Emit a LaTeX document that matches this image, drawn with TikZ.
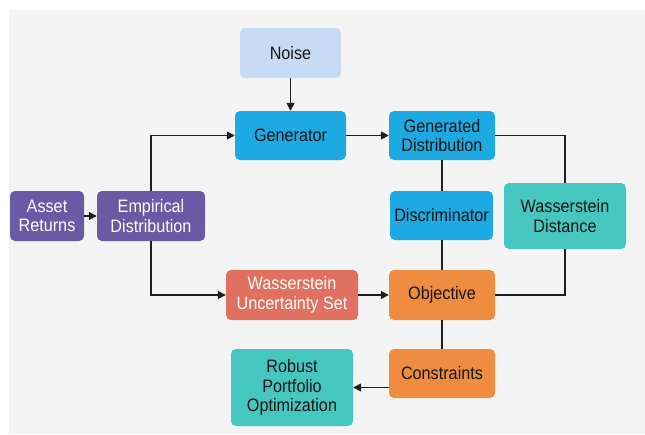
\documentclass[tikz,border=0pt]{standalone}
\usepackage{fontspec}
\setmainfont[FakeStretch=0.9]{Liberation Sans}
\usetikzlibrary{arrows.meta}
\definecolor{bggray}{HTML}{F4F4F4}
\definecolor{noisec}{HTML}{C6DBF3}
\definecolor{bluec}{HTML}{1DA9E1}
\definecolor{purplec}{HTML}{6A5AA6}
\definecolor{tealc}{HTML}{45C7BF}
\definecolor{salmonc}{HTML}{E0705F}
\definecolor{orangec}{HTML}{EF8C3F}
\definecolor{linec}{HTML}{1E1E1E}
\definecolor{darktext}{HTML}{151515}
\newcommand\bnode[7]{\node[box,#6,minimum width={(#4-#2)*1pt},minimum height={(#5-#3)*1pt}] (#1) at ({(#2+#4)/2},{(#3+#5)/2}) {#7};}
\begin{document}
\begin{tikzpicture}[x=1pt,y=-1pt,
  box/.style={rounded corners=5pt, align=center, inner sep=0pt,
    font=\fontsize{18}{19.5}\selectfont},
  noisebox/.style={fill=noisec, text=darktext},
  bluebox/.style={fill=bluec, text=darktext},
  purplebox/.style={fill=purplec, text=white},
  tealbox/.style={fill=tealc, text=darktext},
  salmonbox/.style={fill=salmonc, text=white},
  orangebox/.style={fill=orangec, text=darktext},
  conn/.style={line width=1.6pt, draw=linec},
  arr/.style={conn, -{Triangle[length=8pt,width=8pt]}}]
\useasboundingbox (0,0) rectangle (645,434);
\fill[white] (0,0) rectangle (645,434);
\fill[bggray] (9,10) rectangle (645,434);
\bnode{noise}{240}{28}{341}{78}{noisebox}{Noise}
\bnode{gen}{235}{111}{346}{160}{bluebox}{Generator}
\bnode{gd}{389}{111}{495}{160}{bluebox}{Generated\\Distribution}
\bnode{ar}{10}{191}{84}{241}{purplebox}{Asset\\Returns}
\bnode{ed}{97}{191}{205}{241}{purplebox}{Empirical\\Distribution}
\bnode{disc}{390}{191}{493}{240}{bluebox}{Discriminator}
\bnode{wd}{504}{183}{626}{249}{tealbox}{Wasserstein\\Distance}
\bnode{wus}{226}{270}{358}{320}{salmonbox}{Wasserstein\\Uncertainty Set}
\bnode{obj}{389}{270}{495}{320}{orangebox}{Objective}
\bnode{con}{389}{349}{495}{398}{orangebox}{Constraints}
\bnode{rpo}{231}{349}{353}{426}{tealbox}{Robust\\Portfolio\\Optimization}
\draw[arr] (noise) -- (gen);
\draw[arr] (gen) -- (gd);
\draw[arr] (ar) -- (ed);
\draw[arr] (ed.north) |- (gen.west);
\draw[arr] (ed.south) |- (wus.west);
\draw[arr] (wus) -- (obj);
\draw[conn] (gd.south) -- (gd.south |- disc.north);
\draw[conn] (gd.south |- disc.south) -- (gd.south |- obj.north);
\draw[conn] (gd.east) -| (wd.north);
\draw[conn] (wd.south) |- (obj.east);
\draw[conn] (obj) -- (con);
\draw[arr] (con.west |- rpo) -- (rpo.east);
\end{tikzpicture}
\end{document}
